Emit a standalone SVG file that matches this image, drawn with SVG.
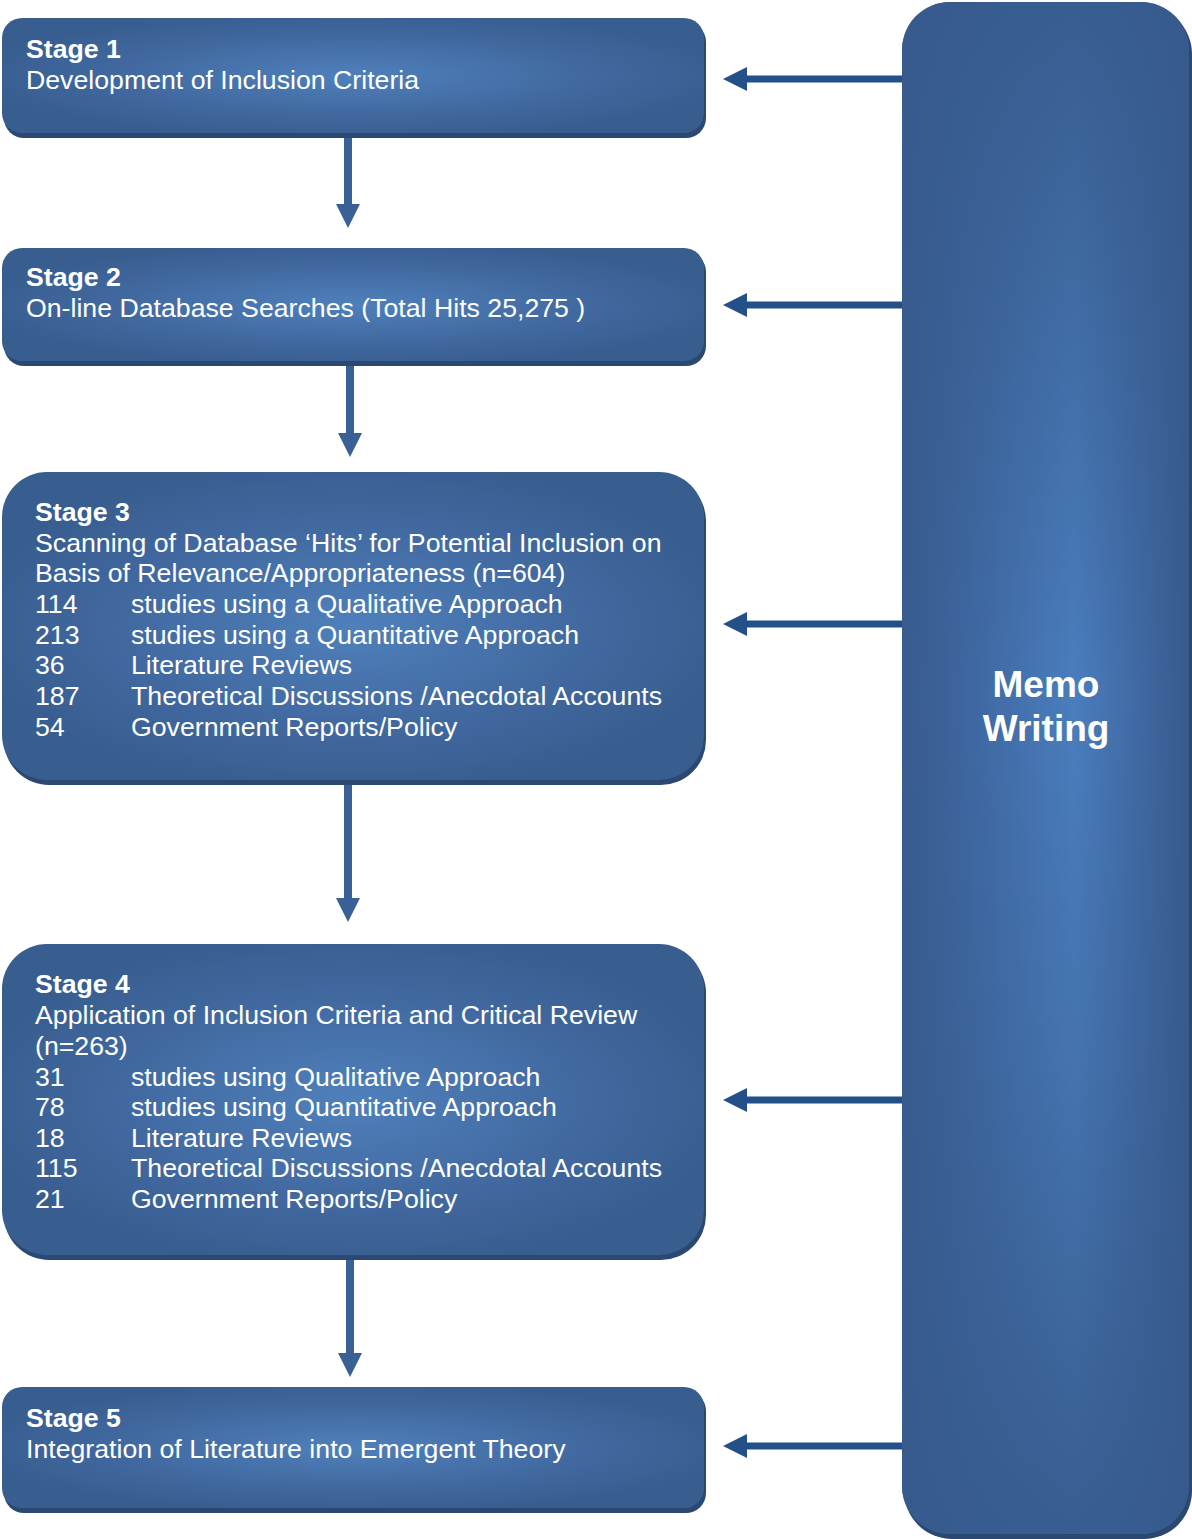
<svg xmlns="http://www.w3.org/2000/svg" width="1192" height="1539" viewBox="0 0 1192 1539">
<defs>
<radialGradient id="boxg2" cx="0.5" cy="0.5" r="0.55">
<stop offset="0" stop-color="#4f80bb"/>
<stop offset="0.6" stop-color="#4169a0"/>
<stop offset="1" stop-color="#385d8f"/>
</radialGradient>
<linearGradient id="memoh" x1="0" y1="0" x2="1" y2="0">
<stop offset="0" stop-color="#385c8e"/>
<stop offset="0.15" stop-color="#3c629a"/>
<stop offset="0.6" stop-color="#4a7ebd"/>
<stop offset="0.85" stop-color="#3f67a0"/>
<stop offset="1" stop-color="#365a8b"/>
</linearGradient>
<linearGradient id="memov" x1="0" y1="0" x2="0" y2="1">
<stop offset="0" stop-color="#365a8c" stop-opacity="0.9"/>
<stop offset="0.3" stop-color="#365a8c" stop-opacity="0.3"/>
<stop offset="0.45" stop-color="#365a8c" stop-opacity="0"/>
<stop offset="0.7" stop-color="#365a8c" stop-opacity="0.3"/>
<stop offset="1" stop-color="#365a8c" stop-opacity="0.9"/>
</linearGradient>
<marker id="ah" viewBox="0 0 24 24" refX="0" refY="12" markerWidth="24" markerHeight="24" markerUnits="userSpaceOnUse" orient="auto">
<path d="M0,0 L24,12 L0,24 Z" fill="#24508a"/>
</marker>
<marker id="ad" viewBox="0 0 24 24" refX="0" refY="12" markerWidth="24" markerHeight="24" markerUnits="userSpaceOnUse" orient="auto">
<path d="M0,0 L24,12 L0,24 Z" fill="#3a6195"/>
</marker>
</defs>
<style>
.shadow{fill:#2b4872}
.box{fill:url(#boxg2)}
.t{font-family:"Liberation Sans",Arial,sans-serif;font-size:26.7px;fill:#ffffff}
.b{font-weight:bold}
.memo{font-family:"Liberation Sans",Arial,sans-serif;font-size:37px;font-weight:bold;fill:#ffffff}
.side{stroke:#24508a;stroke-width:7;fill:none}
.down{stroke:#3a6195;stroke-width:8;fill:none}
</style>
<rect width="1192" height="1539" fill="#ffffff"/>

<g id="memo-writing">
<rect class="shadow" x="904" y="6" width="288" height="1533" rx="48"/>
<rect x="902" y="2" width="287" height="1532" rx="48" fill="url(#memoh)"/>
<rect x="902" y="2" width="287" height="1532" rx="48" fill="url(#memov)"/>
<text class="memo" x="1046" y="697" text-anchor="middle">Memo</text>
<text class="memo" x="1046" y="741" text-anchor="middle">Writing</text>
</g>

<g id="stage1">
<rect class="shadow" x="4" y="22" width="702" height="116" rx="20"/>
<rect class="box" x="2" y="18" width="702" height="115" rx="20"/>
<text class="t b" x="26" y="58">Stage 1</text>
<text class="t" x="26" y="89">Development of Inclusion Criteria</text>
</g>

<g id="stage2">
<rect class="shadow" x="4" y="252" width="702" height="114" rx="20"/>
<rect class="box" x="2" y="248" width="702" height="113" rx="20"/>
<text class="t b" x="26" y="286">Stage 2</text>
<text class="t" x="26" y="317">On-line Database Searches (Total Hits 25,275 )</text>
</g>

<g id="stage3">
<rect class="shadow" x="4" y="476" width="702" height="309" rx="45"/>
<rect class="box" x="2" y="472" width="702" height="308" rx="45"/>
<text class="t b" x="35" y="521">Stage 3</text>
<text class="t" x="35" y="552">Scanning of Database ‘Hits’ for Potential Inclusion on</text>
<text class="t" x="35" y="582">Basis of Relevance/Appropriateness (n=604)</text>
<text class="t" x="35" y="613">114</text><text class="t" x="131" y="613">studies using a Qualitative Approach</text>
<text class="t" x="35" y="644">213</text><text class="t" x="131" y="644">studies using a Quantitative Approach</text>
<text class="t" x="35" y="674">36</text><text class="t" x="131" y="674">Literature Reviews</text>
<text class="t" x="35" y="705">187</text><text class="t" x="131" y="705">Theoretical Discussions /Anecdotal Accounts</text>
<text class="t" x="35" y="736">54</text><text class="t" x="131" y="736">Government Reports/Policy</text>
</g>

<g id="stage4">
<rect class="shadow" x="4" y="948" width="702" height="312" rx="45"/>
<rect class="box" x="2" y="944" width="702" height="311" rx="45"/>
<text class="t b" x="35" y="993">Stage 4</text>
<text class="t" x="35" y="1024">Application of Inclusion Criteria and Critical Review</text>
<text class="t" x="35" y="1055">(n=263)</text>
<text class="t" x="35" y="1086">31</text><text class="t" x="131" y="1086">studies using Qualitative Approach</text>
<text class="t" x="35" y="1116">78</text><text class="t" x="131" y="1116">studies using Quantitative Approach</text>
<text class="t" x="35" y="1147">18</text><text class="t" x="131" y="1147">Literature Reviews</text>
<text class="t" x="35" y="1177">115</text><text class="t" x="131" y="1177">Theoretical Discussions /Anecdotal Accounts</text>
<text class="t" x="35" y="1208">21</text><text class="t" x="131" y="1208">Government Reports/Policy</text>
</g>

<g id="stage5">
<rect class="shadow" x="4" y="1391" width="702" height="122" rx="20"/>
<rect class="box" x="2" y="1387" width="702" height="121" rx="20"/>
<text class="t b" x="26" y="1427">Stage 5</text>
<text class="t" x="26" y="1458">Integration of Literature into Emergent Theory</text>
</g>

<g id="connectors">
<line class="down" x1="348" y1="138" x2="348" y2="204" marker-end="url(#ad)"/>
<line class="down" x1="350" y1="366" x2="350" y2="433" marker-end="url(#ad)"/>
<line class="down" x1="348" y1="785" x2="348" y2="898" marker-end="url(#ad)"/>
<line class="down" x1="350" y1="1260" x2="350" y2="1353" marker-end="url(#ad)"/>
<line class="side" x1="902" y1="79" x2="747" y2="79" marker-end="url(#ah)"/>
<line class="side" x1="902" y1="305" x2="747" y2="305" marker-end="url(#ah)"/>
<line class="side" x1="902" y1="624" x2="747" y2="624" marker-end="url(#ah)"/>
<line class="side" x1="902" y1="1100" x2="747" y2="1100" marker-end="url(#ah)"/>
<line class="side" x1="902" y1="1446" x2="747" y2="1446" marker-end="url(#ah)"/>
</g>
</svg>
